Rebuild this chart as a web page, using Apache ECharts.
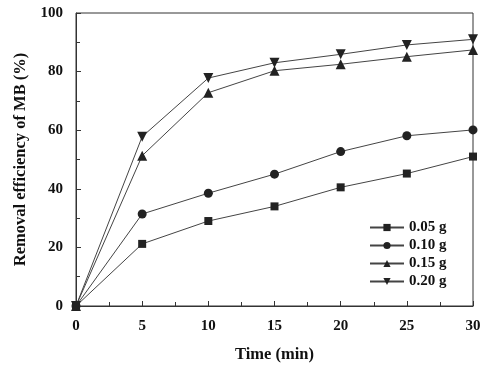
<!DOCTYPE html>
<html><head><meta charset="utf-8">
<script src="https://cdn.jsdelivr.net/npm/echarts@6/dist/echarts.min.js"></script>
<style>html,body{margin:0;padding:0;background:#fff}#c{width:500px;height:369px}</style>
</head><body><div id="c"></div>
<script>
const times = [0, 5, 10, 15, 20, 25, 30];
const s005 = [0, 21.2, 29.0, 34.0, 40.5, 45.2, 51.0];
const s010 = [0, 31.4, 38.5, 45.0, 52.7, 58.1, 60.1];
const s015 = [0, 51.3, 72.8, 80.3, 82.5, 85.1, 87.4];
const s020 = [0, 57.8, 77.8, 83.0, 85.9, 89.1, 91.0];
const names = ['0.05 g', '0.10 g', '0.15 g', '0.20 g'];
const xTicks = [0, 5, 10, 15, 20, 25, 30];
const yTicks = [0, 20, 40, 60, 80, 100];

const font = 'Liberation Serif';
const col = '#222';
function mk(name, vals, symbol, size, rot) {
  return {
    name: name, type: 'line', data: times.map((t, i) => [t, vals[i]]),
    symbol: symbol, symbolSize: size, symbolRotate: rot || 0,
    lineStyle: {color: '#444', width: 1}, itemStyle: {color: col},
    emphasis: {disabled: true}
  };
}
const chart = echarts.init(document.getElementById('c'));
chart.setOption({
  animation: false,
  grid: {left: 76, right: 27, top: 13, bottom: 63, show: true, borderColor: '#333', borderWidth: 1},
  legend: {
    orient: 'vertical', left: 364, top: 215, itemWidth: 34, itemHeight: 9, itemGap: 3,
    textStyle: {fontFamily: font, fontWeight: 'bold', fontSize: 15, color: '#111'},
    data: names
  },
  xAxis: {
    type: 'value', min: 0, max: 30, interval: 5,
    name: 'Time (min)', nameLocation: 'middle', nameGap: 40,
    nameTextStyle: {fontFamily: font, fontWeight: 'bold', fontSize: 16.5, color: '#111'},
    axisLine: {lineStyle: {color: '#333'}},
    axisTick: {inside: true, length: 5, lineStyle: {color: '#333'}},
    minorTick: {show: true, splitNumber: 2, length: 4, lineStyle: {color: '#333'}},
    splitLine: {show: false},
    axisLabel: {fontFamily: font, fontWeight: 'bold', fontSize: 15, color: '#111', margin: 13,
      formatter: v => xTicks.includes(v) ? String(v) : ''}
  },
  yAxis: {
    type: 'value', min: 0, max: 100, interval: 20,
    name: 'Removal efficiency of MB (%)', nameLocation: 'middle', nameGap: 43,
    nameTextStyle: {fontFamily: font, fontWeight: 'bold', fontSize: 16.5, color: '#111'},
    axisLine: {show: true, lineStyle: {color: '#333'}},
    axisTick: {show: true, inside: true, length: 5, lineStyle: {color: '#333'}},
    minorTick: {show: true, splitNumber: 2, length: 4, lineStyle: {color: '#333'}},
    splitLine: {show: false},
    axisLabel: {fontFamily: font, fontWeight: 'bold', fontSize: 15, color: '#111', margin: 13,
      formatter: v => yTicks.includes(v) ? String(v) : ''}
  },
  series: [
    mk(names[0], s005, 'rect', 8),
    mk(names[1], s010, 'circle', 9),
    mk(names[2], s015, 'triangle', 10),
    mk(names[3], s020, 'triangle', 10, 180)
  ]
});
</script></body></html>
